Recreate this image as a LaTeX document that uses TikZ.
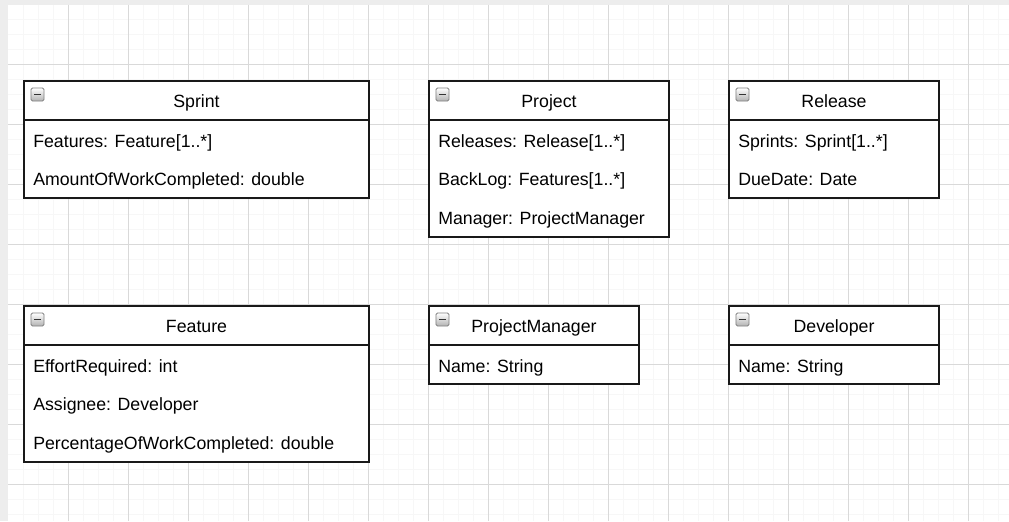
\documentclass[tikz,border=0pt]{standalone}
\usepackage{fontspec}
\setmainfont{Liberation Sans}
\begin{document}
\begin{tikzpicture}[x=0.75pt,y=-0.75pt,line join=miter,
  box/.style={draw=black!90,line width=1.2pt},
  ttl/.style={font=\fontsize{13.3}{16}\selectfont,inner sep=0pt,anchor=base},
  att/.style={font=\fontsize{13.3}{16}\selectfont,inner sep=0pt,anchor=base west},
  tog/.style={draw=black!50,line width=0.6pt,rounded corners=1.2pt,minimum size=9.8pt,inner sep=0pt,top color=white,bottom color=black!30},
  minus/.style={draw=black!80,line width=1.3pt}]
\path[use as bounding box] (0,0) rectangle (1009,521);
\fill[black!7] (0,0) rectangle (1009,521);
\fill[white] (8,4.5) rectangle (1009,521);
% grid: 15px minor, 60px major
\foreach \x in {23,38,...,1009} \draw[black!3,line width=0.75pt] (\x,4.5)--(\x,521);
\foreach \y in {19,34,...,521} \draw[black!3,line width=0.75pt] (8,\y)--(1009,\y);
\foreach \x in {68,128,...,1009} \draw[black!15,line width=0.75pt] (\x,4.5)--(\x,521);
\foreach \y in {64,124,...,521} \draw[black!15,line width=0.75pt] (8,\y)--(1009,\y);

% Sprint
\begin{scope}[shift={(24,81)}]
  \fill[white] (0,0) rectangle (345,117);
  \draw[box] (0,0) rectangle (345,117);
  \draw[box] (0,39)--(345,39);
  \node[tog] (sprint-tog) at (13.5,13.5) {};
  \draw[minus] (10,13.5)--(17,13.5);
  \node[ttl] (sprint) at (172.5,26.5) {Sprint};
  \node[att] (sprint-a1) at (9,66.3) {Features: Feature[1..*]};
  \node[att] (sprint-a2) at (9,104.8) {AmountOfWorkCompleted: double};
\end{scope}

% Project
\begin{scope}[shift={(429,81)}]
  \fill[white] (0,0) rectangle (240,156);
  \draw[box] (0,0) rectangle (240,156);
  \draw[box] (0,39)--(240,39);
  \node[tog] (project-tog) at (13.5,13.5) {};
  \draw[minus] (10,13.5)--(17,13.5);
  \node[ttl] (project) at (120,26.5) {Project};
  \node[att] (project-a1) at (9,66.3) {Releases: Release[1..*]};
  \node[att] (project-a2) at (9,104.8) {BackLog: Features[1..*]};
  \node[att] (project-a3) at (9,143.3) {Manager: ProjectManager};
\end{scope}

% Release
\begin{scope}[shift={(729,81)}]
  \fill[white] (0,0) rectangle (210,117);
  \draw[box] (0,0) rectangle (210,117);
  \draw[box] (0,39)--(210,39);
  \node[tog] (release-tog) at (13.5,13.5) {};
  \draw[minus] (10,13.5)--(17,13.5);
  \node[ttl] (release) at (105,26.5) {Release};
  \node[att] (release-a1) at (9,66.3) {Sprints: Sprint[1..*]};
  \node[att] (release-a2) at (9,104.8) {DueDate: Date};
\end{scope}

% Feature
\begin{scope}[shift={(24,306)}]
  \fill[white] (0,0) rectangle (345,156);
  \draw[box] (0,0) rectangle (345,156);
  \draw[box] (0,39)--(345,39);
  \node[tog] (feature-tog) at (13.5,13.5) {};
  \draw[minus] (10,13.5)--(17,13.5);
  \node[ttl] (feature) at (172.5,26.5) {Feature};
  \node[att] (feature-a1) at (9,66.3) {EffortRequired: int};
  \node[att] (feature-a2) at (9,104.8) {Assignee: Developer};
  \node[att] (feature-a3) at (9,143.3) {PercentageOfWorkCompleted: double};
\end{scope}

% ProjectManager
\begin{scope}[shift={(429,306)}]
  \fill[white] (0,0) rectangle (210,78);
  \draw[box] (0,0) rectangle (210,78);
  \draw[box] (0,39)--(210,39);
  \node[tog] (manager-tog) at (13.5,13.5) {};
  \draw[minus] (10,13.5)--(17,13.5);
  \node[ttl] (manager) at (105,26.5) {ProjectManager};
  \node[att] (manager-a1) at (9,66.3) {Name: String};
\end{scope}

% Developer
\begin{scope}[shift={(729,306)}]
  \fill[white] (0,0) rectangle (210,78);
  \draw[box] (0,0) rectangle (210,78);
  \draw[box] (0,39)--(210,39);
  \node[tog] (developer-tog) at (13.5,13.5) {};
  \draw[minus] (10,13.5)--(17,13.5);
  \node[ttl] (developer) at (105,26.5) {Developer};
  \node[att] (developer-a1) at (9,66.3) {Name: String};
\end{scope}
\end{tikzpicture}
\end{document}
